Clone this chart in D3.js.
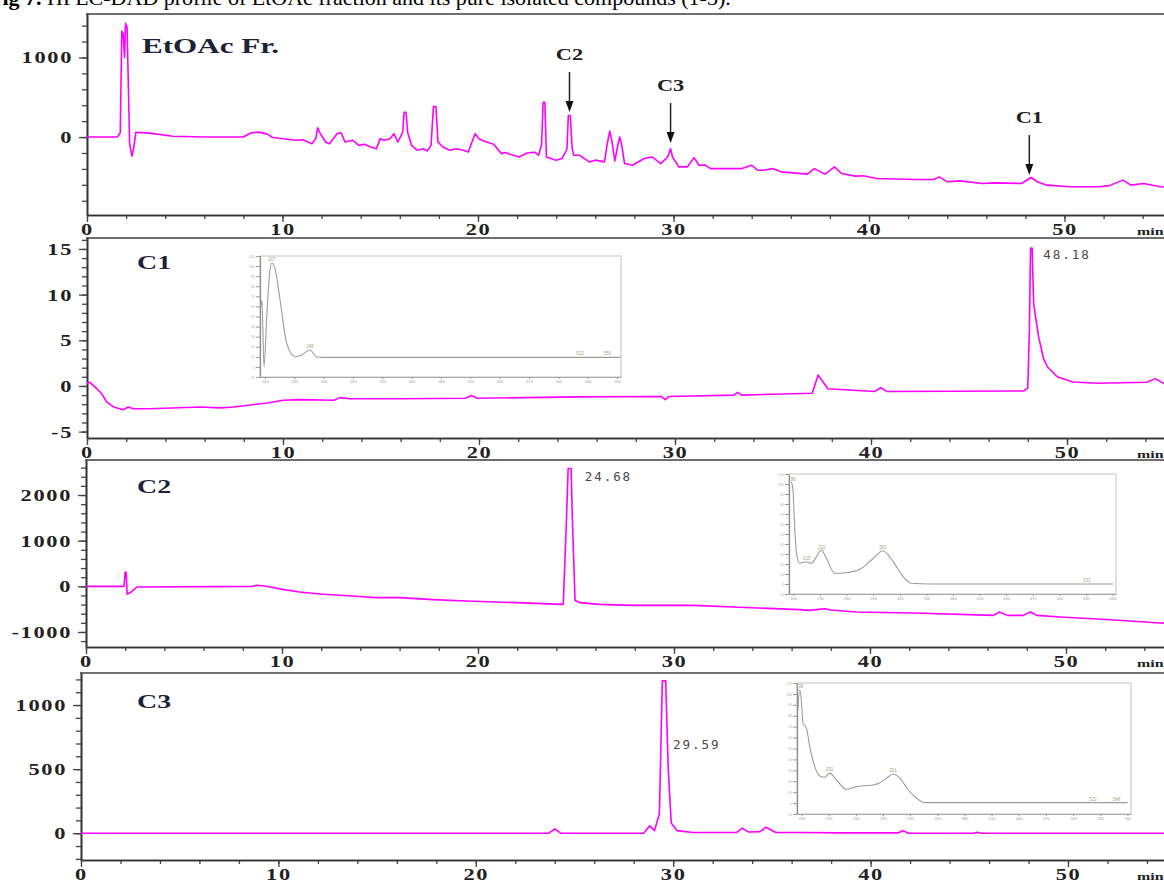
<!DOCTYPE html>
<html><head><meta charset="utf-8">
<script src="https://cdn.jsdelivr.net/npm/d3@7"></script>
<style>
body{margin:0;background:#fff;overflow:hidden}
svg{display:block}
</style></head><body>
<svg id="chart" width="1164" height="881"></svg>
<script>
// ---------------- DATA ----------------
const captionBold = "Fig 7.";
const captionText = " HPLC-DAD profile of EtOAc fraction and its pure isolated compounds (1-3).";
const timeTicks = [0, 10, 20, 30, 40, 50];
const timeUnit = "min";

// Panel 1: EtOAc fraction
const etoacTime = [0,1.55,1.7,1.78,1.85,1.92,1.97,2.05,2.12,2.18,2.3,2.38,2.5,3.2,4.4,6.0,8.0,8.4,8.8,9.2,9.5,10.7,11.05,11.5,11.7,11.8,11.9,12.2,12.4,12.8,13.0,13.2,13.6,13.9,14.2,14.5,14.8,15.0,15.2,15.5,15.7,15.9,16.15,16.22,16.32,16.4,16.6,16.9,17.2,17.4,17.6,17.72,17.85,17.95,18.2,18.57,18.9,19.25,19.5,19.85,20.05,20.3,20.8,21.2,21.4,21.8,22.1,22.5,22.9,23.1,23.25,23.33,23.42,23.5,24.0,24.3,24.55,24.62,24.72,24.82,24.9,25.2,25.7,26.0,26.47,26.6,26.74,26.85,27.0,27.15,27.25,27.35,27.5,27.9,28.5,28.9,29.35,29.7,29.85,29.95,30.27,30.7,31.05,31.3,31.6,31.9,33.5,34.0,34.3,34.6,35.07,35.5,36.85,37.2,37.75,38.24,38.6,39.3,39.7,40.4,42.4,43.3,43.6,44.0,44.65,45.8,46.4,47.8,48.15,48.3,48.6,49.1,50.3,51.8,52.3,52.98,53.4,54.05,54.9,55.5];
const etoacSignal = [0,0,50,1330,1300,1000,1430,1380,600,-80,-240,-150,60,50,10,0,0,55,62,40,-5,-40,-35,-83,-20,117,60,-62,-83,45,55,-62,-40,-104,-90,-125,-146,-20,-40,-20,42,-62,60,312,312,60,-104,-166,-146,-175,-104,383,383,-60,-125,-166,-146,-166,-187,42,-20,-50,-90,-208,-195,-229,-250,-200,-190,-229,-100,437,437,-250,-291,-270,-150,271,271,-150,-229,-229,-312,-290,-312,-100,75,-50,-300,-100,0,-100,-333,-354,-270,-250,-333,-250,-146,-250,-375,-375,-258,-354,-350,-396,-396,-354,-416,-416,-396,-437,-466,-396,-466,-375,-458,-491,-485,-520,-533,-533,-500,-562,-550,-583,-575,-583,-530,-508,-560,-604,-625,-625,-610,-541,-604,-583,-625,-630];
const etoacTicks = [0, 1000];
const arrowNames = ["C2", "C3", "C1"];
const arrowTimes = [24.68, 29.85, 48.2];
const arrowTipValues = [314, -75, -478];

// Panel 2: C1
const c1Time = [0,0.15,0.5,0.75,1.0,1.35,1.85,2.1,2.36,3.2,5.8,6.8,7.5,9.2,10.0,10.9,12.6,12.9,13.4,16.0,19.3,19.6,19.9,25,29.3,29.5,29.7,33.0,33.2,33.4,37.0,37.3,37.5,37.8,40.2,40.5,40.8,47.8,48.0,48.08,48.14,48.22,48.3,48.4,48.55,48.8,49.0,49.5,50.3,51.6,54.07,54.5,55.0,55.5];
const c1Signal = [0.3,0.4,-0.3,-0.85,-1.75,-2.3,-2.6,-2.3,-2.5,-2.5,-2.3,-2.4,-2.3,-1.86,-1.57,-1.5,-1.57,-1.28,-1.4,-1.4,-1.35,-1.05,-1.35,-1.2,-1.15,-1.5,-1.15,-1.0,-0.7,-1.0,-0.8,1.2,0.6,-0.3,-0.6,-0.2,-0.6,-0.55,-0.2,6,15.1,15.1,9,7.5,5.4,3,2.1,1.0,0.44,0.3,0.4,0.8,0.2,0.2];
const c1Ticks = [-5, 0, 5, 10, 15];
const c1PeakTime = 48.18;

// Panel 3: C2
const c2Time = [0,1.94,2.0,2.05,2.1,2.3,2.6,8.5,8.7,9.2,10.1,10.9,12.1,13.6,14.8,16.0,17.7,19.4,21.97,24.35,24.5,24.6,24.75,24.82,24.95,25.2,26.2,27.9,31.0,33.0,36.4,36.9,37.5,37.7,38.0,39.3,42.2,46.3,46.6,47.0,47.8,48.2,48.5,49.7,52.3,54.8,55.5];
const c2Signal = [0,0,314,300,-175,-125,-15,0,22,0,-73,-123,-175,-212,-248,-248,-292,-321,-358,-395,1300,2580,2580,1400,-307,-358,-395,-417,-417,-453,-511,-526,-500,-490,-520,-563,-585,-636,-563,-636,-636,-563,-636,-673,-731,-804,-815];
const c2Ticks = [-1000, 0, 1000, 2000];
const c2PeakTime = 24.68;

// Panel 4: C3
const c3Time = [0,23.7,24.0,24.3,28.5,28.8,29.05,29.3,29.45,29.62,29.75,29.9,30.2,31,33.2,33.5,33.8,34.4,34.7,35.2,36.5,38.5,41.4,41.65,41.9,45.2,45.4,45.6,55.5];
const c3Signal = [0,0,33,0,0,57,20,150,1190,1190,500,80,20,5,5,40,10,12,47,5,5,3,3,20,0,0,8,0,0];
const c3Ticks = [0, 500, 1000];
const c3PeakTime = 29.59;

// UV spectra insets (wavelength nm, relative absorbance)
const uvTicks = [200,230,260,290,320,350,380,410,440,470,500,530,560];
const uvC1Wl = [196,197,199.1,201.9,204.2,207,210.3,215.5,222.3,230.8,237.7,246.2,253,258.1,300,400,564];
const uvC1Ab = [60,66,0.2,49.8,86,102.8,97.8,66.4,23.4,10.1,11.8,16.8,9.8,9.5,9.5,9.5,9.5];
const uvC1Marks = [207, 246, 522, 550];
const uvC2Wl = [197.7,199.5,201.4,203.4,207.1,214.7,220.3,226,231.6,237.2,246.6,259.8,274.9,288.1,301.2,312.5,323.8,333.2,353.9,450,561];
const uvC2Ab = [102.3,94,57.3,30.7,20.7,22.3,20.7,27.3,34,25.7,10.7,11.3,14.7,24,33.3,22.3,7.3,0.7,0,0,0];
const uvC2Marks = [198, 215, 232, 301, 531];
const uvC3Wl = [196,198,199.9,201.6,205.4,209.1,214.6,220.1,225.7,231.2,238.6,249.7,260.7,279.1,286.5,293.9,301.3,308.7,317.9,327.2,336.3,450,560];
const uvC3Ab = [85,103.8,93.1,73.3,68.7,51.8,33.4,24.9,23.7,27.4,21.2,12.7,15.1,16.6,18.7,22.8,26.7,22.8,12,4.4,0.4,0.4,0.4];
const uvC3Marks = [198, 231, 301, 522, 548];

// ---------------- DRAWING ----------------
const W = 1164, H = 881;
const serif = "'Liberation Serif','Times New Roman',serif";
const svg = d3.select("#chart");
const magenta = "#ff00ff";

function stretched(g, x, y, txt, size, sx, fill, weight, family, ls) {
  return g.append("text")
    .attr("transform", `translate(${x},${y}) scale(${sx},1)`)
    .attr("font-family", family || serif)
    .attr("font-size", size)
    .attr("font-weight", weight || "bold")
    .attr("letter-spacing", ls || 0)
    .attr("fill", fill || "#1e1e1e")
    .text(txt);
}

// caption (cut by the top edge, as in the source image)
svg.append("text").attr("x", -11).attr("y", 5)
  .attr("font-family", serif).attr("font-size", 22).attr("fill", "#000")
  .call(t => {
    t.append("tspan").attr("font-weight", "bold").text(captionBold);
    t.append("tspan").text(captionText);
  });

function drawPanel(cfg) {
  const g = svg.append("g");
  const x = d3.scaleLinear().domain([0, 56]).range([cfg.left, cfg.left + 56 * cfg.px]);
  const y = d3.scaleLinear().domain(cfg.yDomain).range([cfg.bottom, cfg.top]);

  g.append("line").attr("x1", cfg.left - 1).attr("x2", W + 10)
    .attr("y1", cfg.top).attr("y2", cfg.top)
    .attr("stroke", "#6e6e6e").attr("stroke-width", 2);

  const styleAxis = s => {
    s.attr("font-family", serif).attr("font-size", 16).attr("font-weight", "bold");
    s.selectAll("line").attr("stroke", "#444").attr("stroke-width", 1.3);
    s.selectAll("path").attr("stroke", "#333").attr("stroke-width", 1.6);
    s.selectAll("text").attr("fill", "#222");
  };

  const yMinor = d3.range(Math.ceil(cfg.yDomain[0] / cfg.yMinor) * cfg.yMinor, cfg.yDomain[1], cfg.yMinor);
  g.append("g").attr("transform", `translate(${cfg.left},0)`)
    .call(d3.axisLeft(y).tickValues(yMinor).tickSize(5).tickSizeOuter(0).tickFormat(""))
    .call(styleAxis);
  g.append("g").attr("transform", `translate(${cfg.left},0)`)
    .call(d3.axisLeft(y).tickValues(cfg.yTicks).tickSize(8).tickSizeOuter(0).tickPadding(2).tickFormat(d => String(d)))
    .call(styleAxis)
    .call(s => s.selectAll("text").attr("transform", "scale(1.4,1)").attr("letter-spacing", 1.2).attr("dy", "0.34em"));

  const xMinor = d3.range(0, 56.1, 2);
  g.append("g").attr("transform", `translate(0,${cfg.bottom})`)
    .call(d3.axisBottom(x).tickValues(xMinor).tickSize(4).tickSizeOuter(0).tickFormat(""))
    .call(styleAxis);
  g.append("g").attr("transform", `translate(0,${cfg.bottom})`)
    .call(d3.axisBottom(x).tickValues(timeTicks).tickSize(7).tickSizeOuter(0).tickPadding(2).tickFormat(d => String(d)))
    .call(styleAxis)
    .call(s => s.selectAll("text").attr("transform", "scale(1.4,1)").attr("letter-spacing", 1.2));

  stretched(g, 1137, cfg.bottom + 20, timeUnit, 11, 1.45, "#222", "bold");

  const data = d3.zip(cfg.time, cfg.signal);
  g.append("path").datum(data)
    .attr("fill", "none").attr("stroke", magenta).attr("stroke-width", 1.6)
    .attr("stroke-linejoin", "round")
    .attr("d", d3.line().x(d => x(d[0])).y(d => y(d[1])));

  stretched(g, cfg.labelX, cfg.top + cfg.labelDy, cfg.label, cfg.labelSize, cfg.labelSx, "#1d2238", "bold");

  if (cfg.peakTime !== undefined) {
    stretched(g, x(cfg.peakTime) + cfg.peakDx, cfg.top + cfg.peakDy, cfg.peakTime.toFixed(2), 12, 1.05, "#4a4a4a", "normal", "'DejaVu Sans Mono',monospace", 1.8);
  }
  return {g, x, y};
}

function drawInset(cfg, wl, ab, marks) {
  const g = svg.append("g");
  const xi = d3.scaleLinear().domain([195, 564]).range([cfg.l, cfg.r]);
  const yi = d3.scaleLinear().domain([-10, 110]).range([cfg.b, cfg.t]);
  g.append("rect").attr("x", cfg.l).attr("y", cfg.t).attr("width", cfg.r - cfg.l).attr("height", cfg.b - cfg.t)
    .attr("fill", "#fff").attr("stroke", "#c4c4c4").attr("stroke-width", 1);
  g.append("g").attr("transform", `translate(${cfg.l},0)`)
    .call(d3.axisLeft(yi).tickValues(d3.range(-10, 111, 10)).tickSize(4).tickSizeOuter(0).tickPadding(1).tickFormat(d => String(d)))
    .call(s => {
      s.selectAll("path").attr("stroke", "#8a8a8a").attr("stroke-width", 1.2);
      s.selectAll("line").attr("stroke", "#9a9a9a");
      s.selectAll("text").attr("font-size", 3.5).attr("fill", "#b0b0b0").attr("font-family", "Arial,sans-serif");
    });
  g.append("g").attr("transform", `translate(0,${cfg.b})`)
    .call(d3.axisBottom(xi).tickValues(uvTicks).tickSize(2).tickSizeOuter(0).tickPadding(1).tickFormat(d => String(d)))
    .call(s => {
      s.selectAll("path").attr("stroke", "#a8a8a8").attr("stroke-width", 1);
      s.selectAll("line").attr("stroke", "#9a9a9a");
      s.selectAll("text").attr("font-size", 4).attr("fill", "#a0a0a0").attr("font-family", "Arial,sans-serif");
    });
  const data = d3.zip(wl, ab);
  g.append("path").datum(data)
    .attr("fill", "none").attr("stroke", "#9c9c9c").attr("stroke-width", 1.1)
    .attr("d", d3.line().curve(d3.curveMonotoneX).x(d => xi(d[0])).y(d => yi(d[1])));
  const interp = w => {
    for (let i = 1; i < wl.length; i++) {
      if (w <= wl[i]) { const f = (w - wl[i-1]) / (wl[i] - wl[i-1]); return ab[i-1] + f * (ab[i] - ab[i-1]); }
    }
    return ab[ab.length - 1];
  };
  g.selectAll("text.mk").data(marks).join("text").attr("class", "mk")
    .attr("x", d => xi(d)).attr("y", d => yi(interp(d)) - 2)
    .attr("text-anchor", "middle").attr("font-size", 4.5).attr("font-family", "Arial,sans-serif")
    .attr("fill", "#a8a488").text(d => String(d));
}

// Panel 1
const p1 = drawPanel({left: 87, top: 14, bottom: 215, px: 19.55, yDomain: [-979, 1546], yMinor: 200, yTicks: etoacTicks,
  time: etoacTime, signal: etoacSignal, label: "EtOAc Fr.", labelX: 142, labelDy: 39, labelSize: 21, labelSx: 1.48});
const arrowG = svg.append("g");
arrowNames.forEach((name, i) => {
  const ax = p1.x(arrowTimes[i]);
  const tip = p1.y(arrowTipValues[i]);
  const topY = tip - 40;
  arrowG.append("line").attr("x1", ax).attr("x2", ax).attr("y1", topY).attr("y2", tip - 9)
    .attr("stroke", "#222").attr("stroke-width", 1.5);
  arrowG.append("path").attr("d", `M${ax - 4},${tip - 11} L${ax + 4},${tip - 11} L${ax},${tip} Z`).attr("fill", "#111");
  const t = stretched(arrowG, 0, 0, name, 16, 1.4, "#1e1e1e", "bold");
  t.attr("transform", `translate(${ax},${topY - 12}) scale(1.4,1)`).attr("text-anchor", "middle");
});

// Panel 2: C1
drawPanel({left: 87, top: 238, bottom: 438, px: 19.6, yDomain: [-5.7, 16.2], yMinor: 1, yTicks: c1Ticks,
  time: c1Time, signal: c1Signal, label: "C1", labelX: 137, labelDy: 31, labelSize: 18, labelSx: 1.55,
  peakTime: c1PeakTime, peakDx: 12, peakDy: 21});
drawInset({l: 260, r: 621, t: 256, b: 377}, uvC1Wl, uvC1Ab, uvC1Marks);

// Panel 3: C2
drawPanel({left: 86, top: 460, bottom: 647, px: 19.6, yDomain: [-1329, 2767], yMinor: 200, yTicks: c2Ticks,
  time: c2Time, signal: c2Signal, label: "C2", labelX: 137, labelDy: 33, labelSize: 18, labelSx: 1.55,
  peakTime: c2PeakTime, peakDx: 15, peakDy: 21});
drawInset({l: 789, r: 1116, t: 474, b: 594}, uvC2Wl, uvC2Ab, uvC2Marks);

// Panel 4: C3
drawPanel({left: 81, top: 673, bottom: 860, px: 19.74, yDomain: [-209, 1250], yMinor: 100, yTicks: c3Ticks,
  time: c3Time, signal: c3Signal, label: "C3", labelX: 137, labelDy: 35, labelSize: 18, labelSx: 1.55,
  peakTime: c3PeakTime, peakDx: 8, peakDy: 76});
drawInset({l: 797, r: 1131, t: 683, b: 814}, uvC3Wl, uvC3Ab, uvC3Marks);
</script>
</body></html>
